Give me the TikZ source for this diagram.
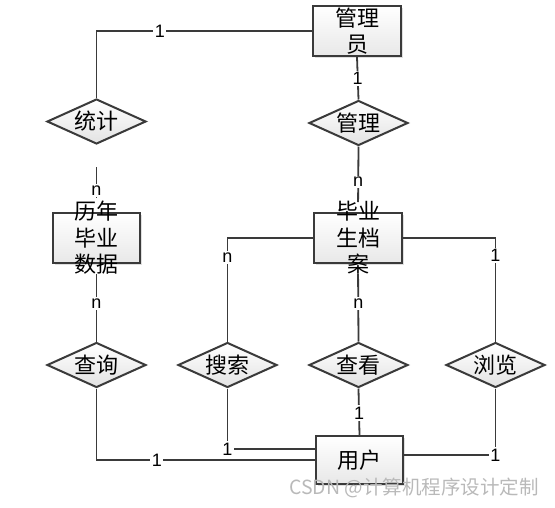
\documentclass[tikz,border=0pt]{standalone}
\usepackage{fontspec}
\setmainfont{Liberation Sans}
\newfontfamily\cjk{Noto Sans CJK SC}
\usepackage{xcolor}
\usepackage{tikz}
\usetikzlibrary{calc, shapes.geometric, positioning, shadows}
\definecolor{xian}{HTML}{3A3A3A}

\begin{document}
\begin{tikzpicture}[x=1pt, y=-1pt,
    shiti/.style={rectangle, draw=xian, line width=2pt, minimum width=87pt, minimum height=50pt,
        top color=white, bottom color=gray!18,
        drop shadow={opacity=0.25, shadow xshift=2pt, shadow yshift=-2pt}},
    guanxi/.style={diamond, draw=xian, line width=2pt, inner sep=0pt, aspect=2.2,
        minimum width=99pt, minimum height=45pt, top color=white, bottom color=gray!22,
        font=\cjk\fontsize{22}{22}\selectfont},
    wenzi/.style={align=center, font=\cjk\fontsize{22}{26.5}\selectfont},
    lian/.style={draw=xian, line width=1.8pt},
    shu/.style={fill=white, inner sep=1.5pt, font=\fontsize{18}{18}\selectfont}]
    \useasboundingbox (0,0) rectangle (555,507);

    % Thực thể
    \node[shiti, minimum width=88pt, label={[wenzi]center:{管理\\员}}] (gly) at (357,31) {};
    \node[shiti, label={[wenzi]center:{历年\\毕业\\数据}}] (lsj) at (96.5,238) {};
    \node[shiti, minimum width=88pt, label={[wenzi]center:{毕业\\生档\\案}}] (daan) at (358,238) {};
    \node[shiti, minimum height=48pt, label={[wenzi]center:{用户}}] (yh) at (359.5,460) {};

    % Quan hệ
    \node[guanxi] (tj) at (96.5,121.5) {统计};
    \node[guanxi] (gl) at (358.5,123) {管理};
    \node[guanxi] (cx) at (96.5,365) {查询};
    \node[guanxi] (ss) at (227.5,365) {搜索};
    \node[guanxi] (ck) at (358.5,365) {查看};
    \node[guanxi] (ll) at (495.5,365) {浏览};

    % Đường nối
    \draw[lian] (tj.north) |- node[shu, pos=0.647] {1} (gly.west);
    \draw[lian] (gly.south) -- node[shu] {1} (gl.north);
    \draw[lian, shorten >=10pt] (gl.south) -- node[shu, pos=0.54] {n} (daan.north);
    \draw[lian, shorten <=22pt, shorten >=14pt] (tj.south) -- node[shu, pos=0.68] {n} (lsj.north);
    \draw[lian, shorten <=10pt] (lsj.south) -- node[shu, pos=0.51] {n} (cx.north);
    \draw[lian, shorten <=10pt] (daan.south) -- node[shu, pos=0.51] {n} (ck.north);
    \draw[lian] (daan.west) -| node[shu, pos=0.595] {n} (ss.north);
    \draw[lian] (daan.east) -| node[shu, pos=0.586] {1} (ll.north);
    \draw[lian] (cx.south) |- node[shu, pos=0.638] {1} (yh.west);
    \draw[lian] (ss.south) |- node[shu, pos=0.5] {1} ([yshift=11pt]yh.west);
    \draw[lian] (ck.south) -- node[shu, pos=0.53] {1} (yh.north);
    \draw[lian] (ll.south) |- node[shu, pos=0.5] {1} ([yshift=5pt]yh.east);

    % Thủy ấn
    \node[anchor=west, inner sep=0pt, text=gray!55, font=\cjk\fontsize{19.5}{19.5}\selectfont] (sy) at (289,488) {CSDN @计算机程序设计定制};
\end{tikzpicture}
\end{document}
